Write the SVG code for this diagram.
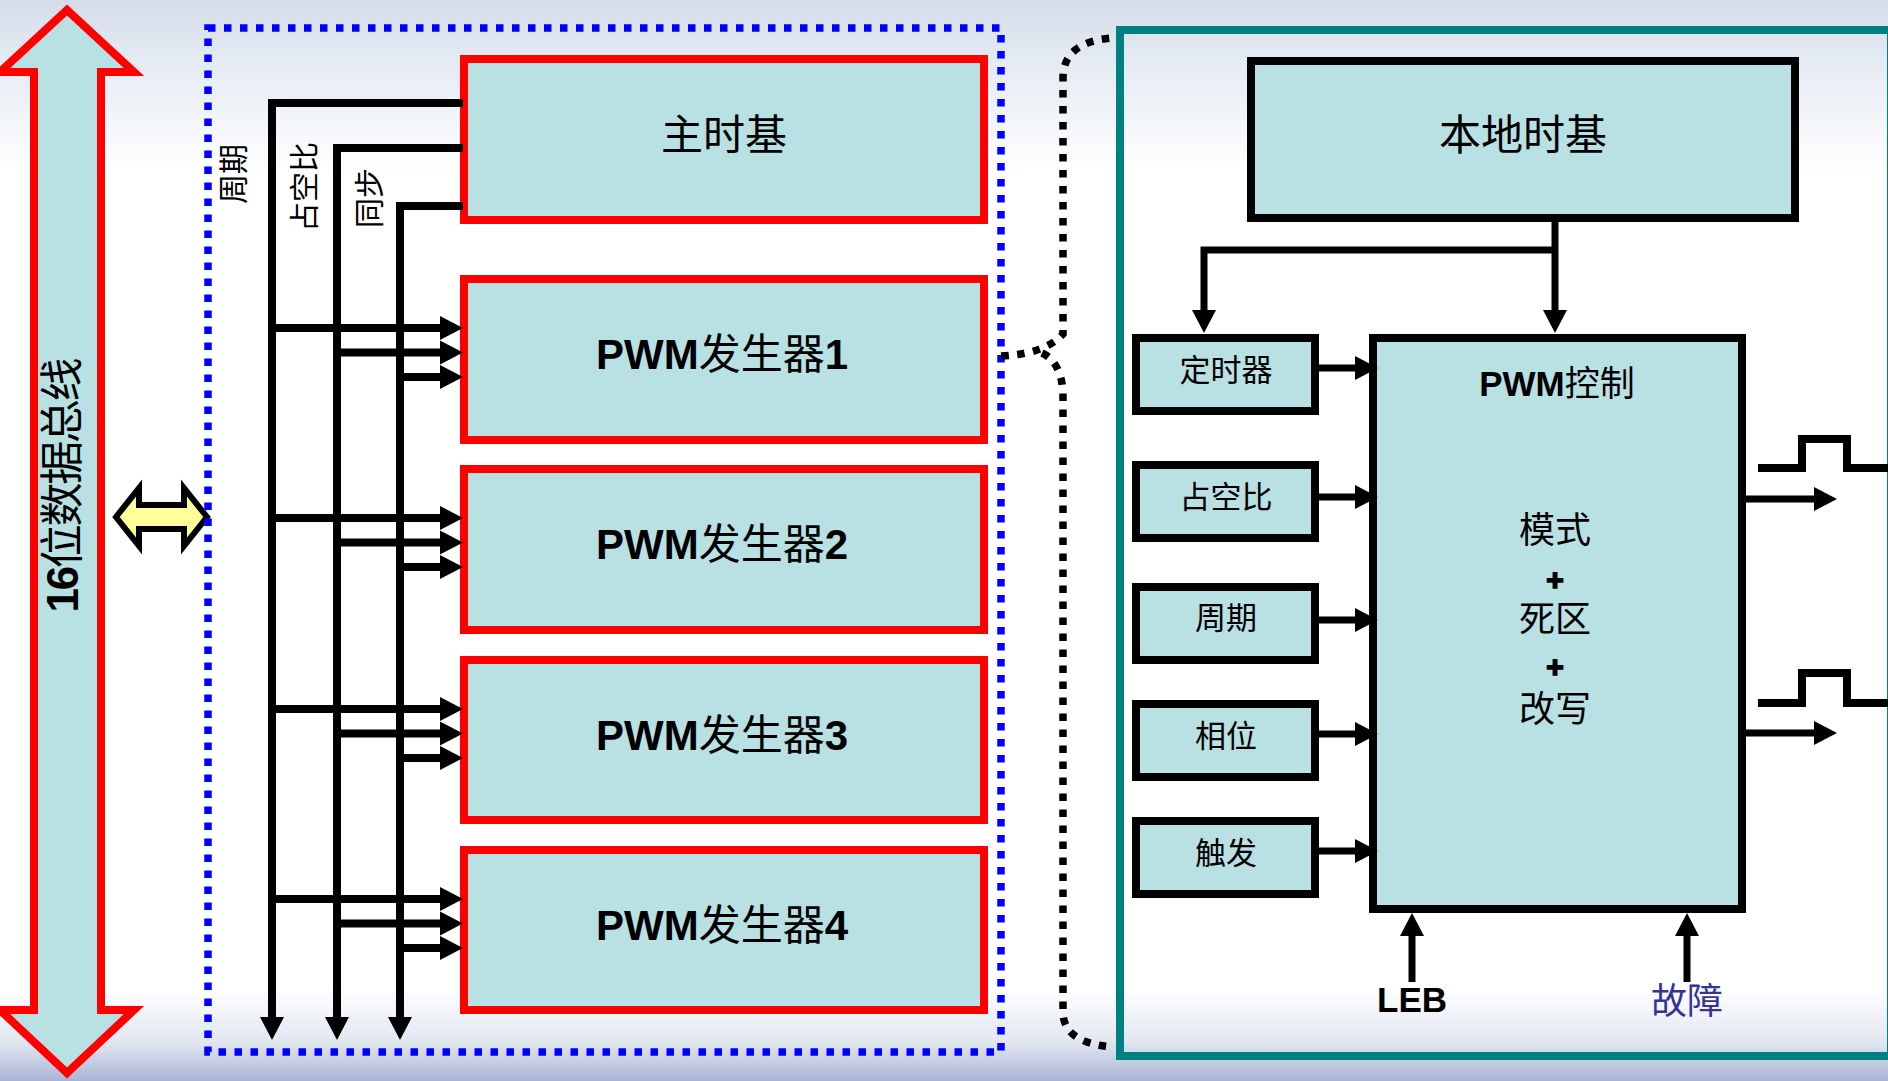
<svg xmlns="http://www.w3.org/2000/svg" width="1888" height="1081" viewBox="0 0 1888 1081">
  <defs>
    <linearGradient id="bg" x1="0" y1="0" x2="0" y2="1">
      <stop offset="0" stop-color="#D3DCE8"/>
      <stop offset="0.05" stop-color="#E3E9F2"/>
      <stop offset="0.16" stop-color="#FFFFFF"/>
      <stop offset="0.915" stop-color="#FFFFFF"/>
      <stop offset="0.965" stop-color="#E0E5F0"/>
      <stop offset="1" stop-color="#AAB5D3"/>
    </linearGradient>
    <marker id="ah" markerUnits="userSpaceOnUse" markerWidth="24" markerHeight="24" refX="0" refY="12" orient="auto" overflow="visible">
      <path d="M0,0 L23,12 L0,24 Z" fill="#000"/>
    </marker>
    <style>
      .gen { fill: #B9E0E3; stroke: #FF0000; stroke-width: 8; }
      .blk { fill: #B9E0E3; stroke: #000; stroke-width: 8; }
      .wire { fill: none; stroke: #000; stroke-width: 8; stroke-linejoin: miter; }
      .thin { fill: none; stroke: #000; stroke-width: 7; }
      .arr { marker-end: url(#ah); }
      .cjk { font-family: "Noto Sans CJK SC", sans-serif; }
      .mix { font-family: "Liberation Sans", "Noto Sans CJK SC", sans-serif; }
      .c { text-anchor: middle; dominant-baseline: central; fill: #000; }
      .b { font-weight: bold; }
      .plus { stroke: #000; stroke-width: 1.6; }
      .dots { fill: none; stroke-width: 7.5; stroke-dasharray: 7.5 8.5; }
    </style>
  </defs>

  <!-- page background -->
  <rect x="0" y="0" width="1888" height="1081" fill="url(#bg)"/>

  <!-- 16-bit data bus -->
  <g id="data-bus">
    <polygon points="67,10 134,72 101,72 101,1010 134,1010 67,1073 0,1010 34,1010 34,72 0,72" fill="#B9E0E3" stroke="#FF0000" stroke-width="8" stroke-linejoin="miter"/>
    <text class="mix c" font-size="44" transform="translate(62,485) rotate(-90)" textLength="255" lengthAdjust="spacing"><tspan class="b">16</tspan>位数据总线</text>
  </g>

  <!-- bus-to-module link -->
  <g id="bus-link">
    <polygon points="116,517 139,488 139,505 184,505 184,488 207,517 184,546 184,529 139,529 139,546" fill="#FFFF99" stroke="#000" stroke-width="6" stroke-linejoin="miter"/>
  </g>

  <!-- PWM module boundary -->
  <g id="pwm-module">
    <rect x="208" y="28" width="793" height="1024" class="dots" stroke="#0000FF"/>
  </g>

  <!-- expanded generator boundary -->
  <g id="generator-detail">
    <rect x="1120" y="30" width="771" height="1026" fill="none" stroke="#008080" stroke-width="8"/>
  </g>

  <!-- master time base -->
  <g id="master-timebase">
    <rect x="464" y="59" width="520" height="161" class="gen"/>
    <text class="cjk c" x="724" y="131" font-size="42">主时基</text>
  </g>

  <g id="pwm-gen-1">
    <rect x="464" y="279" width="520" height="161" class="gen"/>
    <text class="mix c" x="722" y="354" font-size="42"><tspan class="b">PWM</tspan>发生器<tspan class="b">1</tspan></text>
  </g>
  <g id="pwm-gen-2">
    <rect x="464" y="469" width="520" height="161" class="gen"/>
    <text class="mix c" x="722" y="544" font-size="42"><tspan class="b">PWM</tspan>发生器<tspan class="b">2</tspan></text>
  </g>
  <g id="pwm-gen-3">
    <rect x="464" y="660" width="520" height="160" class="gen"/>
    <text class="mix c" x="722" y="735" font-size="42"><tspan class="b">PWM</tspan>发生器<tspan class="b">3</tspan></text>
  </g>
  <g id="pwm-gen-4">
    <rect x="464" y="850" width="520" height="160" class="gen"/>
    <text class="mix c" x="722" y="925" font-size="42"><tspan class="b">PWM</tspan>发生器<tspan class="b">4</tspan></text>
  </g>

  <!-- local time base and generator blocks -->
  <g id="local-timebase">
    <rect x="1251" y="61" width="544" height="157" class="blk" stroke-width="9"/>
    <text class="cjk c" x="1523" y="131" font-size="42">本地时基</text>
  </g>
  <g id="timer">
    <rect x="1136" y="338" width="179" height="73" class="blk"/>
    <text class="cjk c" x="1226" y="367" font-size="31">定时器</text>
  </g>
  <g id="duty">
    <rect x="1136" y="465" width="179" height="73" class="blk"/>
    <text class="cjk c" x="1226" y="494" font-size="31">占空比</text>
  </g>
  <g id="period">
    <rect x="1136" y="587" width="179" height="73" class="blk"/>
    <text class="cjk c" x="1226" y="615" font-size="31">周期</text>
  </g>
  <g id="phase">
    <rect x="1136" y="704" width="179" height="73" class="blk"/>
    <text class="cjk c" x="1226" y="733" font-size="31">相位</text>
  </g>
  <g id="trigger">
    <rect x="1136" y="821" width="179" height="73" class="blk"/>
    <text class="cjk c" x="1226" y="850" font-size="31">触发</text>
  </g>
  <g id="pwm-control">
    <rect x="1373" y="338" width="369" height="571" class="blk"/>
    <text class="mix c" x="1557" y="383" font-size="35"><tspan class="b">PWM</tspan>控制</text>
    <text class="mix c" x="1555" y="530" font-size="36">模式</text>
    <text class="mix c b plus" x="1555" y="579" font-size="30">+</text>
    <text class="mix c" x="1555" y="619" font-size="36">死区</text>
    <text class="mix c b plus" x="1555" y="666" font-size="30">+</text>
    <text class="mix c" x="1555" y="709" font-size="36">改写</text>
  </g>

  <!-- signal names on the shared bus lines -->
  <g id="bus-labels">
    <text class="cjk c" font-size="30" transform="translate(231,174) rotate(-90)">周期</text>
    <text class="cjk c" font-size="30" transform="translate(302,187) rotate(-90)">占空比</text>
    <text class="cjk c" font-size="30" transform="translate(367,198) rotate(-90)">同步</text>
  </g>

  <!-- input labels -->
  <g id="leb">
    <text class="mix b" x="1412" y="1012" font-size="35" text-anchor="middle">LEB</text>
  </g>
  <g id="fault">
    <text class="cjk c" x="1687" y="998" font-size="36" style="fill:#333399">故障</text>
  </g>

  <!-- connectors -->
  <g id="connectors">
    <!-- master time base outputs running down the module -->
    <path class="wire arr" d="M463,103 H272 V1017"/>
    <path class="wire arr" d="M463,148 H337 V1017"/>
    <path class="wire arr" d="M463,206 H400 V1017"/>

    <!-- taps into each generator -->
    <path class="wire arr" d="M272,328 H440"/>
    <path class="wire arr" d="M337,352.5 H440"/>
    <path class="wire arr" d="M400,377 H440"/>

    <path class="wire arr" d="M272,518 H440"/>
    <path class="wire arr" d="M337,542.5 H440"/>
    <path class="wire arr" d="M400,567 H440"/>

    <path class="wire arr" d="M272,709 H440"/>
    <path class="wire arr" d="M337,733.5 H440"/>
    <path class="wire arr" d="M400,758 H440"/>

    <path class="wire arr" d="M272,899 H440"/>
    <path class="wire arr" d="M337,923.5 H440"/>
    <path class="wire arr" d="M400,948 H440"/>

    <!-- bracket from generator 1 to its detail view -->
    <path class="dots" stroke="#000" d="M1001,356 Q1045,354 1063,334 V78 Q1063,42 1112,38"/>
    <path class="dots" stroke="#000" d="M1042,353 Q1061,362 1063,392 V1012 Q1063,1043 1113,1047"/>

    <!-- local time base distribution -->
    <path class="thin arr" d="M1555,218 V310"/>
    <path class="thin arr" d="M1555,250 H1204 V310"/>

    <!-- register blocks into PWM control -->
    <path class="thin arr" d="M1319,368 H1355"/>
    <path class="thin arr" d="M1319,497 H1355"/>
    <path class="thin arr" d="M1319,620 H1355"/>
    <path class="thin arr" d="M1319,734 H1355"/>
    <path class="thin arr" d="M1319,851 H1355"/>

    <!-- outputs -->
    <path class="thin arr" d="M1742,499 H1814"/>
    <path class="thin arr" d="M1742,733 H1814"/>
    <path class="wire" d="M1758,468 H1802 V439 H1847 V468 H1890"/>
    <path class="wire" d="M1758,703 H1802 V673 H1847 V703 H1890"/>

    <!-- LEB and fault inputs -->
    <path class="thin arr" d="M1412,982 V936"/>
    <path class="thin arr" d="M1687,982 V936"/>
  </g>
</svg>
